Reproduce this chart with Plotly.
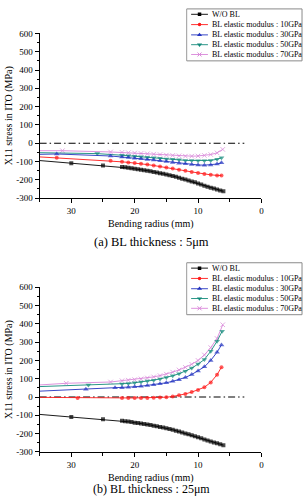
import plotly.graph_objects as go

# ---------------- data ----------------
names = ["W/O BL", "BL elastic modulus : 10GPa", "BL elastic modulus : 30GPa",
         "BL elastic modulus : 50GPa", "BL elastic modulus : 70GPa"]

r_wo = [35, 30, 25, 22, 21.5, 21, 20.5, 20, 19.5, 19, 18.5, 18, 17.5, 17, 16.5, 16, 15.5, 15,
        14.5, 14, 13.5, 13, 12.5, 12, 11.5, 11, 10.5, 10, 9.5, 9, 8.5, 8, 7.5, 7, 6.5, 6]
s_wo = [-95, -109, -122, -130, -132, -134, -137, -140, -142, -145, -148, -150, -153, -157, -160,
        -164, -167, -171, -175, -179, -184, -189, -194, -199, -204, -209, -214, -220, -226, -232,
        -238, -243, -248, -253, -258, -263]

# (a) BL thickness 5 um
r5_10 = [35, 32.3, 23.8, 22, 21, 20, 19, 18, 17, 16, 15, 14, 13, 12, 11, 10, 9, 8, 7, 6.3]
s5_10 = [-75, -80, -96, -102, -105, -108, -112, -117, -122, -127, -133, -138, -145, -151, -157,
         -163, -168, -173, -176, -177]
r5_30 = [35, 32.3, 23.8, 22, 21, 20, 19, 18, 17, 16, 15, 14, 13, 12, 11, 10, 9, 8, 7, 6.3]
s5_30 = [-61, -59, -70, -75, -78, -82, -85, -89, -92, -96, -100, -105, -109, -113, -116, -119,
         -120, -119, -114, -107]
r5_50 = [35, 25.9, 22, 21, 20, 19, 18, 17, 16, 15, 14, 13, 12, 11, 10, 9, 8, 7, 6.3]
s5_50 = [-52, -57, -66, -69, -71, -74, -77, -80, -83, -86, -88, -91, -94, -95, -96, -96, -94,
         -88, -80]
r5_70 = [35, 31.4, 23.8, 22, 21, 20, 19, 18, 17, 16, 15, 14, 13, 12, 11, 10, 9, 8, 7, 6.1]
s5_70 = [-41, -41, -48, -50, -52, -54, -56, -58, -60, -62, -65, -67, -69, -71, -71, -70, -67,
         -62, -53, -34]

# (b) BL thickness 25 um
r25_10 = [35, 29.0, 22, 21, 20, 19, 18, 17, 16, 15, 14, 13, 12, 11, 10, 9, 8, 7, 6.3]
s25_10 = [-2, -5, -5, -5, -5, -5, -5, -4, -3, -1, 3, 9, 17, 27, 38, 53, 80, 122, 163]
r25_30 = [35, 27.7, 23.1, 22, 21, 20, 19, 18, 17, 16, 15, 14, 13, 12, 11, 10, 9, 8, 7, 6.3]
s25_30 = [32, 43, 50, 50, 53, 56, 59, 63, 67, 72, 78, 86, 95, 107, 123, 142, 165, 200, 245, 285]
r25_50 = [35, 27.3, 22, 21, 20, 19, 18, 17, 16, 15, 14, 13, 12, 11, 10, 9, 8, 7, 6.2]
s25_50 = [57, 66, 71, 74, 78, 82, 87, 92, 99, 106, 116, 127, 141, 158, 180, 205, 250, 305, 360]
r25_70 = [35, 30.8, 23.8, 22, 21, 20, 19, 18, 17, 16, 15, 14, 13, 12, 11, 10, 9, 8, 7, 6.1]
s25_70 = [66, 75, 82, 89, 92, 95, 99, 104, 110, 117, 125, 136, 148, 162, 179, 200, 230, 270,
          320, 395]

ref_x = [35, 2.7]
ref_y = [0, 0]

y_ticks = [-300, -200, -100, 0, 100, 200, 300, 400, 500, 600]
y_ticktext = [str(v).replace("\u2212", "-") for v in y_ticks]
x_ticks = [30, 20, 10, 0]

# ---------------- styling ----------------
FONT = "Liberation Serif, Times New Roman, serif"
W, H = 307, 501
colors = ["#000000", "#ff1a1a", "#2233c0", "#128a7a", "#d986d9"]
symbols = ["square", "circle", "triangle-up", "triangle-down", "x-thin"]
msizes = [4, 4, 5, 5, 4.5]
leg_sizes = [3.5, 3.5, 4.5, 4.5, 4]

PX0, PX1 = 40, 264
panels = [(29, 197), (288, 456)]


def ydom(y0, y1):
    return [1 - y1 / H, 1 - y0 / H]


fig = go.Figure()

data_top = [(r_wo, s_wo), (r5_10, s5_10), (r5_30, s5_30), (r5_50, s5_50), (r5_70, s5_70)]
data_bot = [(r_wo, s_wo), (r25_10, s25_10), (r25_30, s25_30), (r25_50, s25_50), (r25_70, s25_70)]

for pi, (data, xa, ya) in enumerate([(data_top, "x", "y"), (data_bot, "x2", "y2")]):
    fig.add_trace(go.Scatter(x=ref_x, y=ref_y, mode="lines", xaxis=xa, yaxis=ya,
                             line=dict(color="black", width=1.1, dash="7px,3px,1.5px,3px"),
                             showlegend=False, hoverinfo="skip"))
    for k in [4, 3, 2, 1, 0]:
        xs, ys = data[k]
        sizes = [0] + [msizes[k]] * (len(xs) - 1)
        mk = dict(symbol=symbols[k], color=colors[k], size=sizes,
                  line=dict(width=1 if symbols[k] == "x-thin" else 0, color=colors[k]))
        fig.add_trace(go.Scatter(x=xs, y=ys, mode="lines+markers", xaxis=xa, yaxis=ya,
                                 line=dict(color=colors[k], width=0.9),
                                 marker=mk, showlegend=False, name=names[k]))

# manual compact legends (axes x3/y3 and x4/y4 in pixel-like units)
rows = [9.5, 20, 30.5, 40.5, 50.5]
for xa, ya in [("x3", "y3"), ("x4", "y4")]:
    for k in range(5):
        fig.add_trace(go.Scatter(x=[193, 210], y=[rows[k], rows[k]], mode="lines",
                                 xaxis=xa, yaxis=ya, line=dict(color=colors[k], width=0.9),
                                 showlegend=False, hoverinfo="skip"))
        fig.add_trace(go.Scatter(x=[201.5], y=[rows[k]], mode="markers", xaxis=xa, yaxis=ya,
                                 marker=dict(symbol=symbols[k], color=colors[k], size=leg_sizes[k],
                                             line=dict(width=1 if symbols[k] == "x-thin" else 0,
                                                       color=colors[k])),
                                 showlegend=False, hoverinfo="skip"))
        fig.add_annotation(x=212, y=rows[k], xref=xa, yref=ya, text=names[k],
                           showarrow=False, xanchor="left", yanchor="middle",
                           font=dict(family=FONT, size=8, color="black"))
    fig.add_shape(type="rect", xref=xa, yref=ya, x0=188.5, x1=305, y0=4, y1=57,
                  line=dict(color="#8a8a8a", width=1), fillcolor="rgba(0,0,0,0)")

axis_common = dict(showline=True, linecolor="black", linewidth=1, ticks="outside",
                   ticklen=4, tickcolor="black", showgrid=False, zeroline=False,
                   tickfont=dict(family=FONT, size=9, color="black"))

layout = dict(width=W, height=H, margin=dict(l=0, r=0, t=0, b=0),
              paper_bgcolor="white", plot_bgcolor="rgba(0,0,0,0)", showlegend=False)

for i, (y0, y1) in enumerate(panels):
    sx = "" if i == 0 else "2"
    layout["xaxis" + sx] = dict(axis_common, domain=[PX0 / W, PX1 / W], range=[35, 0],
                                anchor="y" + sx, tickvals=x_ticks,
                                minor=dict(tickvals=[35, 25, 15, 5], ticklen=3,
                                           ticks="outside", tickcolor="black"))
    layout["yaxis" + sx] = dict(axis_common, domain=ydom(y0, y1), range=[-300, 600],
                                anchor="x" + sx, tickvals=y_ticks, ticktext=y_ticktext,
                                minor=dict(dtick=50, ticklen=2, ticks="outside",
                                           tickcolor="black"))

legend_boxes = [(0, 60), (259, 319)]
for i, (t0, t1) in enumerate(legend_boxes):
    n = str(3 + i)
    layout["xaxis" + n] = dict(domain=[188 / W, 306 / W], range=[188, 306], visible=False,
                               anchor="y" + n, fixedrange=True)
    layout["yaxis" + n] = dict(domain=ydom(t0, t1), range=[60, 0], visible=False,
                               anchor="x" + n, fixedrange=True)

fig.update_layout(**layout)

# titles and captions
texts = [
    ("X11 stress in ITO (MPa)", 8.5, 113, 10, -90),
    ("Bending radius (mm)", 152, 223, 10, 0),
    ("(a) BL thickness : 5\u03bcm", 153, 241.5, 12.5, 0),
    ("X11 stress in ITO (MPa)", 8.5, 372, 10, -90),
    ("Bending radius (mm)", 152, 482.5, 10, 0),
    ("(b) BL thickness : 25\u03bcm", 153, 493.5, 12, 0),
]
for t, px, py, fs, ang in texts:
    fig.add_annotation(x=px / W, y=1 - py / H, xref="paper", yref="paper", text=t,
                       showarrow=False, xanchor="center", yanchor="middle", textangle=ang,
                       font=dict(family=FONT, size=fs, color="black"))

fig.write_html("out.html")
